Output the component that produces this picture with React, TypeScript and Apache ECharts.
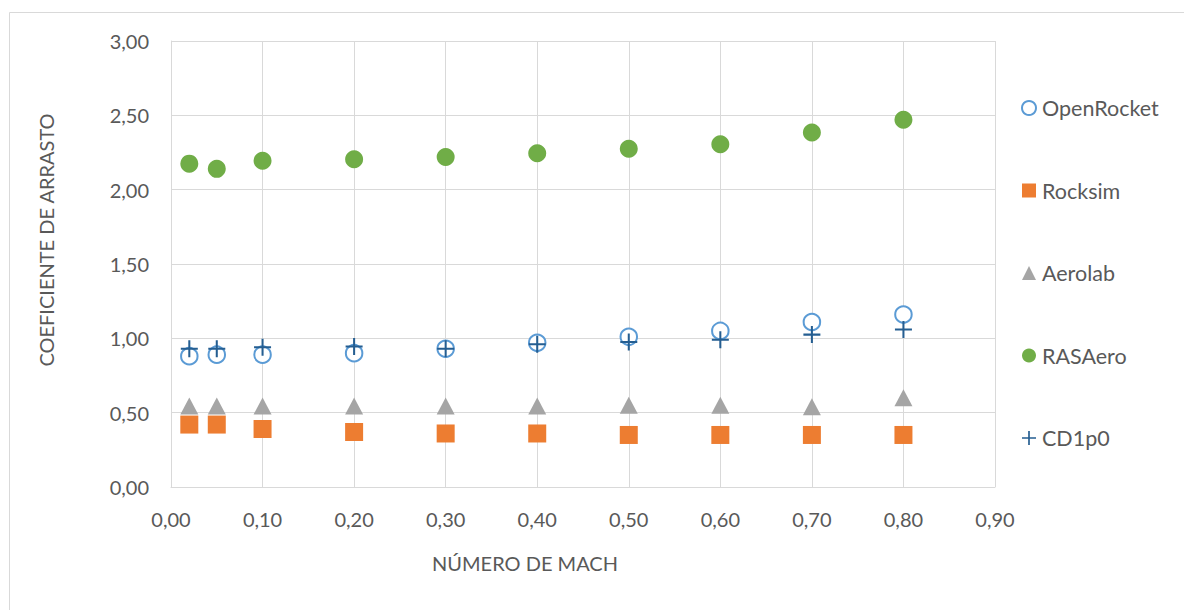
import React, { useEffect, useRef } from "react";
import * as echarts from "echarts";

const machNumbers = [0.02, 0.05, 0.1, 0.2, 0.3, 0.4, 0.5, 0.6, 0.7, 0.8];
const openRocket = [0.88, 0.89, 0.89, 0.9, 0.93, 0.97, 1.01, 1.05, 1.11, 1.16];
const rocksim = [0.42, 0.42, 0.39, 0.37, 0.36, 0.36, 0.35, 0.35, 0.35, 0.35];
const aerolab = [0.545, 0.545, 0.545, 0.545, 0.545, 0.545, 0.55, 0.55, 0.54, 0.6];
const rasAero = [2.175, 2.14, 2.195, 2.205, 2.22, 2.245, 2.275, 2.305, 2.385, 2.47];
const cd1p0 = [0.93, 0.93, 0.94, 0.945, 0.93, 0.96, 0.975, 0.99, 1.025, 1.06];
const seriesNames = ["OpenRocket", "Rocksim", "Aerolab", "RASAero", "CD1p0"];
const xAxisTitle = "NÚMERO DE MACH";
const yAxisTitle = "COEFICIENTE DE ARRASTO";

const FONT = "Lato";
const TEXT_COLOR = "#595959";
const GRID_COLOR = "#D9D9D9";
const PLUS = "path://M4.4,0 H5.6 V4.4 H10 V5.6 H5.6 V10 H4.4 V5.6 H0 V4.4 H4.4 Z";

const pairs = (ys: number[]) => machNumbers.map((x, i) => [x, ys[i]]);
const fmt = (v: number) => v.toFixed(2).replace(".", ",");

export default function App() {
  const ref = useRef<HTMLDivElement>(null);
  useEffect(() => {
    if (!ref.current) return;
    const chart = echarts.init(ref.current, null, { renderer: "svg" });
    chart.setOption({
      animation: false,
      backgroundColor: "#ffffff",
      textStyle: { fontFamily: FONT },
      grid: { left: 171, top: 41, right: 189, bottom: 123 },
      xAxis: {
        type: "value",
        min: 0,
        max: 0.9,
        interval: 0.1,
        axisLine: { show: true, lineStyle: { color: GRID_COLOR, width: 1 } },
        axisTick: { show: false },
        splitLine: { show: true, lineStyle: { color: GRID_COLOR, width: 1 } },
        axisLabel: { formatter: fmt, color: TEXT_COLOR, fontSize: 20, fontFamily: FONT, margin: 22 },
      },
      yAxis: {
        type: "value",
        min: 0,
        max: 3,
        interval: 0.5,
        axisLine: { show: true, lineStyle: { color: GRID_COLOR, width: 1 } },
        axisTick: { show: false },
        splitLine: { show: true, lineStyle: { color: GRID_COLOR, width: 1 } },
        axisLabel: { formatter: fmt, color: TEXT_COLOR, fontSize: 20, fontFamily: FONT, margin: 22 },
      },
      legend: {
        orient: "vertical",
        left: 1016,
        top: 92,
        itemGap: 60.5,
        itemWidth: 14,
        itemHeight: 14,
        data: seriesNames,
        textStyle: { color: TEXT_COLOR, fontSize: 21.5, fontFamily: FONT, padding: [0, 0, 0, 1] },
      },
      graphic: [
        {
          type: "rect",
          left: 7,
          top: 10,
          z: -10,
          shape: { width: 1200, height: 640 },
          style: { fill: "none", stroke: GRID_COLOR, lineWidth: 1 },
          silent: true,
        },
        {
          type: "text",
          x: 525,
          y: 563,
          style: {
            text: xAxisTitle,
            fill: TEXT_COLOR,
            font: `20px ${FONT}`,
            align: "center",
            verticalAlign: "middle",
          },
        },
        {
          type: "text",
          x: 46,
          y: 240,
          rotation: Math.PI / 2,
          style: {
            text: yAxisTitle,
            fill: TEXT_COLOR,
            font: `20px ${FONT}`,
            align: "center",
            verticalAlign: "middle",
          },
        },
      ],
      series: [
        {
          name: seriesNames[0],
          type: "scatter",
          symbol: "emptyCircle",
          symbolSize: 16.5,
          itemStyle: { color: "#5B9BD5", borderColor: "#5B9BD5", borderWidth: 1.8, opacity: 1 },
          data: pairs(openRocket),
        },
        {
          name: seriesNames[1],
          type: "scatter",
          symbol: "rect",
          symbolSize: 18,
          itemStyle: { color: "#ED7D31", opacity: 1 },
          data: pairs(rocksim),
        },
        {
          name: seriesNames[2],
          type: "scatter",
          symbol: "triangle",
          symbolSize: [18, 17],
          itemStyle: { color: "#A5A5A5", opacity: 1 },
          data: pairs(aerolab),
        },
        {
          name: seriesNames[3],
          type: "scatter",
          symbol: "circle",
          symbolSize: 18,
          itemStyle: { color: "#70AD47", opacity: 1 },
          data: pairs(rasAero),
        },
        {
          name: seriesNames[4],
          type: "scatter",
          symbol: PLUS,
          symbolSize: 17,
          itemStyle: { color: "#255E91", opacity: 1 },
          data: pairs(cd1p0),
        },
      ],
    });
    return () => chart.dispose();
  }, []);
  return (
    <div
      ref={ref}
      style={{ position: "absolute", left: 0, top: 0, width: 1184, height: 610 }}
    />
  );
}
